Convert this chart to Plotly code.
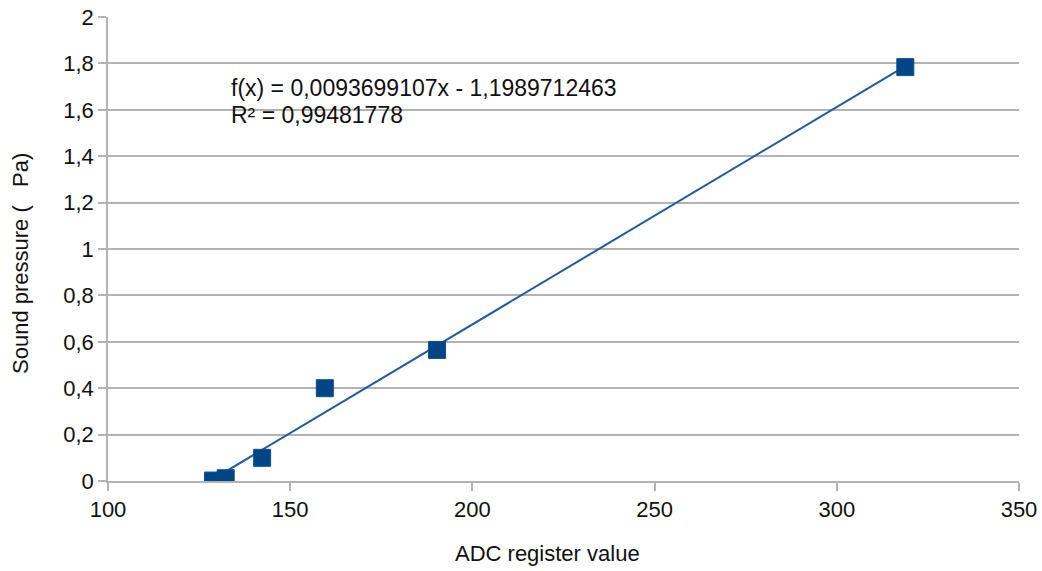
import plotly.graph_objects as go

# Data
adc_values = [128.8, 132.3, 142.3, 159.5, 190.3, 318.8]
pressure_pa = [0.002, 0.012, 0.10, 0.40, 0.565, 1.784]

# Trendline coefficients as printed on the chart
slope = 0.0093699107
intercept = -1.1989712463
r_squared = 0.99481778

x_ticks = [100, 150, 200, 250, 300, 350]
y_ticks = [0, 0.2, 0.4, 0.6, 0.8, 1.0, 1.2, 1.4, 1.6, 1.8, 2.0]

series_color = "#004586"
font_family = "Liberation Sans, Arial, sans-serif"

trend_x = [min(adc_values), max(adc_values)]
trend_y = [slope * v + intercept for v in trend_x]

fig = go.Figure()
fig.add_trace(go.Scatter(
    x=trend_x, y=trend_y, mode="lines",
    line=dict(color="#1f5c9c", width=2),
    hoverinfo="skip", showlegend=False,
))
fig.add_trace(go.Scatter(
    x=adc_values, y=pressure_pa, mode="markers",
    marker=dict(symbol="square", size=17, color=series_color,
                line=dict(color="#0d4f8f", width=1)),
    showlegend=False,
))

fig.update_layout(
    width=1042, height=571,
    margin=dict(l=108, r=23, t=17, b=90),
    paper_bgcolor="white", plot_bgcolor="white",
    separators=",.",
    font=dict(family=font_family, size=22, color="#111111"),
    xaxis=dict(
        range=[100, 350], tickvals=x_ticks, showgrid=False,
        showline=True, linecolor="#b3b3b3", linewidth=1.5,
        ticks="outside", ticklen=8, tickcolor="#b3b3b3", tickwidth=1.5,
        zeroline=False, tickfont=dict(size=22), automargin=False,
        ticklabeloverflow="allow",
    ),
    yaxis=dict(
        range=[0, 2], tickvals=y_ticks, showgrid=True,
        gridcolor="#b3b3b3", gridwidth=1.5,
        showline=True, linecolor="#b3b3b3", linewidth=1.5,
        ticks="outside", ticklen=8, tickcolor="#b3b3b3", tickwidth=1.5,
        zeroline=False, tickfont=dict(size=22), automargin=False,
        ticklabeloverflow="allow",
    ),
    annotations=[
        dict(text="ADC register value", xref="paper", yref="paper",
             x=(547 - 108) / 911, y=-(553 - 481) / 464, showarrow=False,
             xanchor="center", yanchor="middle", font=dict(size=22)),
        dict(text="Sound pressure (   Pa)", xref="paper", yref="paper",
             x=-(108 - 20) / 911, y=(481 - 264) / 464, showarrow=False,
             textangle=-90, xanchor="center", yanchor="middle",
             font=dict(size=22)),
        dict(text=f"f(x) = {slope:.10f}x - {abs(intercept):.10f}".replace(".", ","),
             xref="paper", yref="paper",
             x=(229 - 108) / 911, y=(481 - 88) / 464, showarrow=False,
             xanchor="left", yanchor="middle", font=dict(size=23)),
        dict(text=f"R² = {r_squared:.8f}".replace(".", ","),
             xref="paper", yref="paper",
             x=(229 - 108) / 911, y=(481 - 115) / 464, showarrow=False,
             xanchor="left", yanchor="middle", font=dict(size=23)),
    ],
)

fig.write_html(
    "out.html",
    config={"displayModeBar": False},
    post_script="document.body.style.margin='0';document.body.style.overflow='hidden';",
)
